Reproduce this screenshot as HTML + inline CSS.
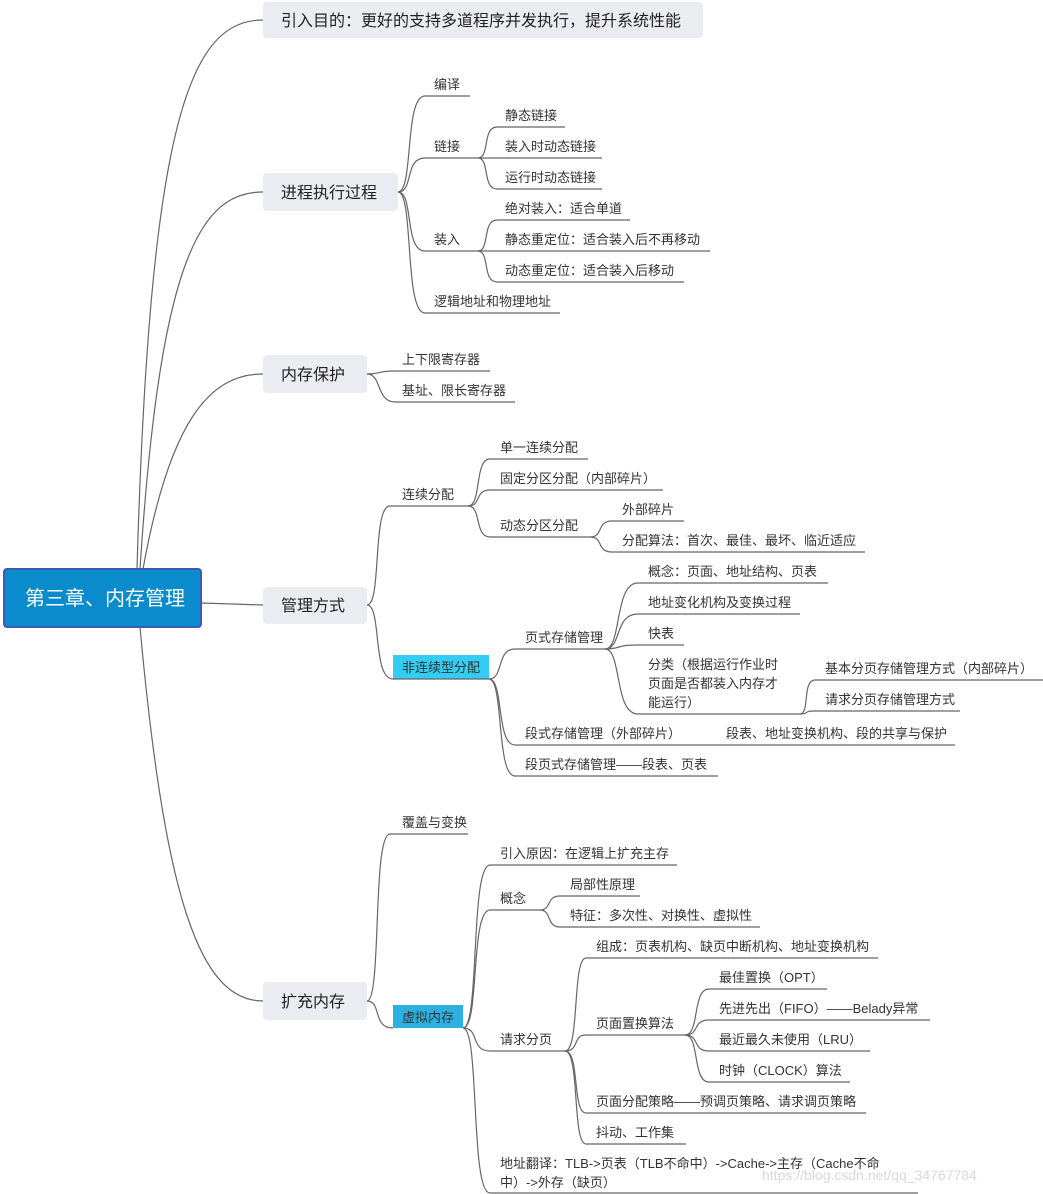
<!DOCTYPE html>
<html><head><meta charset="utf-8"><style>
html,body{margin:0;padding:0;background:#fff;}
svg{display:block;font-family:"Liberation Sans","Noto Sans CJK SC",sans-serif;}
.t{font-size:13px;fill:#333;}
.m{font-size:16px;fill:#222;}
.u{stroke:#666;stroke-width:1.2;fill:none;}
.c{stroke:#666;stroke-width:1.2;fill:none;}
</style></head><body>
<svg width="1043" height="1194" viewBox="0 0 1043 1194" xmlns="http://www.w3.org/2000/svg">
<!-- root connectors -->
<path class="c" d="M137,569 C150,120 190,20 263,20"/>
<path class="c" d="M140,569 C160,260 200,192 263,192"/>
<path class="c" d="M143,569 C170,420 210,374 263,374"/>
<path class="c" d="M201,603 L263,605"/>
<path class="c" d="M140,627 C165,900 200,1001 263,1001"/>
<!-- main boxes -->
<rect x="263" y="2" width="440" height="36" rx="4" fill="#ebebf2"/>
<text class="m" x="281" y="26">引入目的：更好的支持多道程序并发执行，提升系统性能</text>
<rect x="263" y="173" width="135" height="38" rx="4" fill="#ebebf2"/>
<text class="m" x="281" y="198">进程执行过程</text>
<rect x="263" y="355" width="104" height="38" rx="4" fill="#ebebf2"/>
<text class="m" x="281" y="380">内存保护</text>
<rect x="263" y="587" width="104" height="37" rx="4" fill="#ebebf2"/>
<text class="m" x="281" y="611">管理方式</text>
<rect x="263" y="982" width="104" height="38" rx="4" fill="#ebebf2"/>
<text class="m" x="281" y="1007">扩充内存</text>
<rect x="4" y="569" width="197" height="58" rx="3" fill="#0a8ccc" stroke="#3a5cb8" stroke-width="2"/>
<text x="25" y="605" font-size="20" fill="#fff">第三章、内存管理</text>

<!-- connectors -->
<path class="c" d="M398,192 C414,192 404,96 425,96"/>
<path class="c" d="M398,192 C414,192 404,158 425,158"/>
<path class="c" d="M398,192 C414,192 404,251 425,251"/>
<path class="c" d="M398,192 C414,192 404,313 425,313"/>
<path class="c" d="M478,158 C490,158 482,127 497,127"/>
<path class="c" d="M478,158 L497,158"/>
<path class="c" d="M478,158 C490,158 482,189 497,189"/>
<path class="c" d="M478,251 C490,251 482,220 497,220"/>
<path class="c" d="M478,251 L497,251"/>
<path class="c" d="M478,251 C490,251 482,282 497,282"/>
<path class="c" d="M367,374 C380,374 378,371 395,371"/>
<path class="c" d="M367,374 C382,374 376,402 395,402"/>
<path class="c" d="M367,605 C382,605 372,506 390,506"/>
<path class="c" d="M367,605 C382,605 372,679 393,679"/>
<path class="c" d="M468,506 C482,506 474,459 490,459"/>
<path class="c" d="M468,506 C482,506 474,490 490,490"/>
<path class="c" d="M468,506 C482,506 474,537 490,537"/>
<path class="c" d="M590,537 C604,537 596,521 612,521"/>
<path class="c" d="M590,537 C604,537 596,552 612,552"/>
<path class="c" d="M489,679 C504,679 496,649 515,649"/>
<path class="c" d="M489,679 C504,679 496,745 515,745"/>
<path class="c" d="M489,679 C504,679 496,776 515,776"/>
<path class="c" d="M605,649 C622,649 614,583 638,583"/>
<path class="c" d="M605,649 C622,649 614,614 638,614"/>
<path class="c" d="M605,649 C622,649 614,645 638,645"/>
<path class="c" d="M605,649 C622,649 614,714 638,714"/>
<path class="c" d="M800,714 C810,714 802,680 815,680"/>
<path class="c" d="M800,714 C810,714 802,711 815,711"/>
<path class="c" d="M367,1001 C382,1001 372,834 390,834"/>
<path class="c" d="M367,1001 C382,1001 372,1028 393,1028"/>
<path class="c" d="M463,1028 C480,1028 470,865 490,865"/>
<path class="c" d="M463,1028 C480,1028 470,910 490,910"/>
<path class="c" d="M463,1028 C480,1028 470,1051 490,1051"/>
<path class="c" d="M463,1028 C480,1028 470,1193 490,1193"/>
<path class="c" d="M540,910 C552,910 546,896 560,896"/>
<path class="c" d="M540,910 C552,910 546,927 560,927"/>
<path class="c" d="M565,1051 C580,1051 572,958 586,958"/>
<path class="c" d="M565,1051 C580,1051 572,1035 586,1035"/>
<path class="c" d="M565,1051 C580,1051 572,1113 586,1113"/>
<path class="c" d="M565,1051 C580,1051 572,1144 586,1144"/>
<path class="c" d="M685,1035 C700,1035 692,989 709,989"/>
<path class="c" d="M685,1035 C700,1035 692,1020 709,1020"/>
<path class="c" d="M685,1035 C700,1035 692,1051 709,1051"/>
<path class="c" d="M685,1035 C700,1035 692,1082 709,1082"/>

<!-- highlighted boxes -->
<rect x="393" y="655" width="96" height="24" fill="#33ccf2"/>
<text class="t" x="402" y="672">非连续型分配</text>
<rect x="393" y="1005" width="70" height="23" fill="#2bb0e0"/>
<text class="t" x="402" y="1022">虚拟内存</text>

<!-- underlines -->
<g class="u">
<path d="M425,96H470M425,158H478M425,251H478M425,313H560"/>
<path d="M497,127H565M497,158H602M497,189H602M497,220H630M497,251H710M497,282H684"/>
<path d="M395,371H490M395,402H515"/>
<path d="M390,506H468M490,459H588M490,490H663M490,537H590M612,521H684M612,552H865"/>
<path d="M393,679H489M515,649H605M638,583H828M638,614H800M638,645H684M638,714H800M815,680H1043M815,711H960M515,745H955M515,776H718"/>
<path d="M390,834H468M490,865H677M490,910H540M560,896H640M560,927H760M490,1051H565"/>
<path d="M586,958H878M586,1035H685M709,989H827M709,1020H930M709,1051H870M709,1082H850M586,1113H866M586,1144H686M490,1193H918"/>
</g>

<!-- leaf text -->
<text class="t" x="434" y="89">编译</text>
<text class="t" x="434" y="151">链接</text>
<text class="t" x="505" y="120">静态链接</text>
<text class="t" x="505" y="151">装入时动态链接</text>
<text class="t" x="505" y="182">运行时动态链接</text>
<text class="t" x="434" y="244">装入</text>
<text class="t" x="505" y="213">绝对装入：适合单道</text>
<text class="t" x="505" y="244">静态重定位：适合装入后不再移动</text>
<text class="t" x="505" y="275">动态重定位：适合装入后移动</text>
<text class="t" x="434" y="306">逻辑地址和物理地址</text>
<text class="t" x="402" y="364">上下限寄存器</text>
<text class="t" x="402" y="395">基址、限长寄存器</text>
<text class="t" x="402" y="499">连续分配</text>
<text class="t" x="500" y="452">单一连续分配</text>
<text class="t" x="500" y="483">固定分区分配（内部碎片）</text>
<text class="t" x="500" y="530">动态分区分配</text>
<text class="t" x="622" y="514">外部碎片</text>
<text class="t" x="622" y="545">分配算法：首次、最佳、最坏、临近适应</text>
<text class="t" x="525" y="642">页式存储管理</text>
<text class="t" x="648" y="576">概念：页面、地址结构、页表</text>
<text class="t" x="648" y="607">地址变化机构及变换过程</text>
<text class="t" x="648" y="638">快表</text>
<text class="t" x="648" y="669">分类（根据运行作业时</text>
<text class="t" x="648" y="688">页面是否都装入内存才</text>
<text class="t" x="648" y="707">能运行）</text>
<text class="t" x="825" y="673">基本分页存储管理方式（内部碎片）</text>
<text class="t" x="825" y="704">请求分页存储管理方式</text>
<text class="t" x="525" y="738">段式存储管理（外部碎片）</text>
<text class="t" x="726" y="738">段表、地址变换机构、段的共享与保护</text>
<text class="t" x="525" y="769">段页式存储管理——段表、页表</text>
<text class="t" x="402" y="827">覆盖与变换</text>
<text class="t" x="500" y="858">引入原因：在逻辑上扩充主存</text>
<text class="t" x="500" y="903">概念</text>
<text class="t" x="570" y="889">局部性原理</text>
<text class="t" x="570" y="920">特征：多次性、对换性、虚拟性</text>
<text class="t" x="500" y="1044">请求分页</text>
<text class="t" x="596" y="951">组成：页表机构、缺页中断机构、地址变换机构</text>
<text class="t" x="596" y="1028">页面置换算法</text>
<text class="t" x="719" y="982">最佳置换（OPT）</text>
<text class="t" x="719" y="1013">先进先出（FIFO）——Belady异常</text>
<text class="t" x="719" y="1044">最近最久未使用（LRU）</text>
<text class="t" x="719" y="1075">时钟（CLOCK）算法</text>
<text class="t" x="596" y="1106">页面分配策略——预调页策略、请求调页策略</text>
<text class="t" x="596" y="1137">抖动、工作集</text>
<text class="t" x="500" y="1168">地址翻译：TLB-&gt;页表（TLB不命中）-&gt;Cache-&gt;主存（Cache不命</text>
<text class="t" x="500" y="1187">中）-&gt;外存（缺页）</text>
<text x="762" y="1180" font-size="14" fill="#d8d8d8">https://blog.csdn.net/qq_34767784</text>
</svg>
</body></html>
